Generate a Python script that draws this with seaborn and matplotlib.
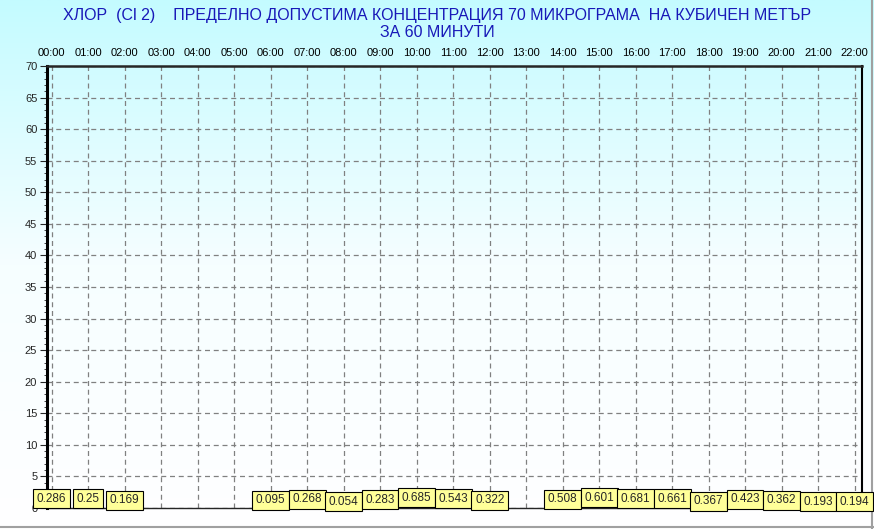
import numpy as np
import pandas as pd
import matplotlib
matplotlib.use("Agg")
import matplotlib.pyplot as plt
import seaborn as sns

sns.set_style("white")
plt.rcParams['font.family'] = ['Liberation Sans Narrow', 'Liberation Sans', 'DejaVu Sans']

hours = [0, 1, 2, 6, 7, 8, 9, 10, 11, 12, 14, 15, 16, 17, 18, 19, 20, 21, 22]
values = [0.286, 0.25, 0.169, 0.095, 0.268, 0.054, 0.283, 0.685, 0.543, 0.322,
          0.508, 0.601, 0.681, 0.661, 0.367, 0.423, 0.362, 0.193, 0.194]
tick_labels = ["%02d:00" % h for h in range(23)]
title = ("ХЛОР  (Cl 2)    ПРЕДЕЛНО ДОПУСТИМА КОНЦЕНТРАЦИЯ 70 МИКРОГРАМА  НА КУБИЧЕН МЕТЪР\n"
         "ЗА 60 МИНУТИ")

df = pd.DataFrame({"hour": hours, "value": values})

fig = plt.figure(figsize=(8.74, 5.29), dpi=100)

# background gradient cyan -> white
bg = fig.add_axes([0, 0, 1, 1], zorder=-10)
grad = np.linspace(0, 1, 256).reshape(-1, 1)
cmap = matplotlib.colors.LinearSegmentedColormap.from_list("bg", ["#c4fbff", "#f6feff", "#ffffff"])
bg.imshow(grad, aspect="auto", cmap=cmap, extent=[0, 1, 0, 1])
bg.axhline(0.004, color="#a0a0a0", lw=1.5)
bg.axvline(0.998, color="#a0a0a0", lw=1.5)
bg.set_axis_off()

ax = fig.add_axes([47 / 874, 1 - 508 / 529, (862 - 47) / 874, (508 - 66) / 529])
ax.patch.set_alpha(0)

sns.barplot(data=df, x="hour", y="value", native_scale=True, width=0.25,
            color="#c00000", saturation=1, ax=ax)

ax.set_xlim(-0.13, 22.2)
ax.set_ylim(0, 70)
ax.set_xticks(range(23))
ax.set_xticklabels(tick_labels)
ax.xaxis.tick_top()
ax.tick_params(axis="x", length=0, labelsize=8, pad=6, colors="black")
ax.set_yticks(range(0, 71, 5))
ax.set_yticks(range(0, 71, 1), minor=True)
ax.tick_params(axis="y", which="major", length=5, labelsize=8, pad=2, direction="out", left=True)
ax.tick_params(axis="y", which="minor", length=2, direction="out", left=True)
ax.set_xlabel("")
ax.set_ylabel("")
ax.grid(True, which="major", color="#808080", ls=(0, (4, 3)), lw=0.9)

for side in ["left", "right"]:
    ax.spines[side].set_color("black")
ax.spines["left"].set_linewidth(2.2)
ax.spines["right"].set_linewidth(1.5)
ax.spines["top"].set_linestyle((0, (3, 1)))
ax.spines["top"].set_linewidth(1.8)
ax.spines["bottom"].set_linestyle((0, (2, 1)))
ax.spines["bottom"].set_linewidth(1.0)

offsets = [1.45, 1.45, 1.2, 1.2, 1.4, 1.0, 1.3, 1.65, 1.45, 1.2,
           1.4, 1.6, 1.5, 1.45, 1.1, 1.4, 1.25, 1.0, 1.0]
for h, v, o in zip(hours, values, offsets):
    ax.text(h, o, str(v), ha="center", va="center", fontsize=8.5, zorder=5,
            bbox=dict(boxstyle="square,pad=0.3", fc="#ffff99", ec="black", lw=0.8))

fig.text(0.5, 1 - 24 / 529, title, ha="center", va="center", color="#1818b8",
         fontsize=11.5, linespacing=1.2)

fig.savefig("out.png", dpi=100)
